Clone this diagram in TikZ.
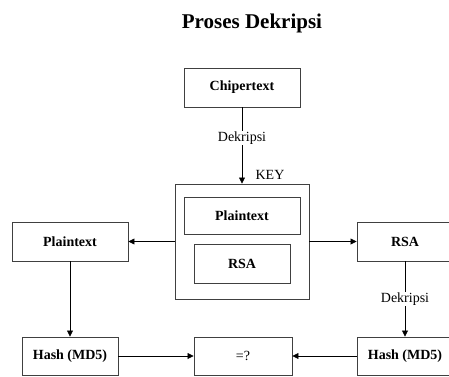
\documentclass[tikz,border=0pt]{standalone}
\usepackage{fontspec}
\setmainfont{Liberation Serif}
\usetikzlibrary{arrows.meta}
\begin{document}
\begin{tikzpicture}[x=1pt,y=-1pt,
  box/.style={draw=black!75,line width=0.9pt,fill=white,inner sep=0pt,font=\fontsize{14}{16}\selectfont\bfseries},
  conn/.style={draw=black,line width=0.7pt,-{Triangle[length=6pt,width=6pt]}},
  lbl/.style={fill=white,inner sep=1pt,font=\fontsize{14}{16}\selectfont}]
\useasboundingbox (0,0) rectangle (449,376);
\clip (0,0) rectangle (449,376);
\node[font=\fontsize{21}{24}\selectfont\bfseries,anchor=base] (title) at (252,28) {Proses Dekripsi};
\node[box,minimum width=116pt,minimum height=39pt] (chip) at (242,87.5) {Chipertext};
\node[draw=black!75,line width=0.9pt,minimum width=134pt,minimum height=115pt,inner sep=0pt] (outer) at (242,241.5) {};
\node[box,minimum width=116pt,minimum height=37pt] (ip) at (242,215.5) {Plaintext};
\node[box,minimum width=96pt,minimum height=39pt] (ir) at (242,263.5) {RSA};
\node[font=\fontsize{14}{16}\selectfont] (key) at (270,175) {KEY};
\node[box,minimum width=116pt,minimum height=39pt] (lp) at (70,241.5) {Plaintext};
\node[box,minimum width=96pt,minimum height=39pt] (rr) at (405,241.5) {RSA};
\node[box,minimum width=96pt,minimum height=38pt] (lh) at (70,356) {Hash (MD5)};
\node[box,minimum width=98pt,minimum height=38pt,font=\fontsize{14}{16}\selectfont] (eq) at (243,356) {=?};
\node[box,minimum width=96pt,minimum height=38pt] (rh) at (405,356) {Hash (MD5)};
\draw[conn] (chip.south) -- node[lbl,pos=0.4] {Dekripsi} (outer.north);
\draw[conn] (outer.west) -- (lp.east);
\draw[conn] (outer.east) -- (rr.west);
\draw[conn] (lp.south) -- (lh.north);
\draw[conn] (rr.south) -- node[lbl,pos=0.5] {Dekripsi} (rh.north);
\draw[conn] (lh.east) -- (eq.west);
\draw[conn] (rh.west) -- (eq.east);
\end{tikzpicture}
\end{document}
